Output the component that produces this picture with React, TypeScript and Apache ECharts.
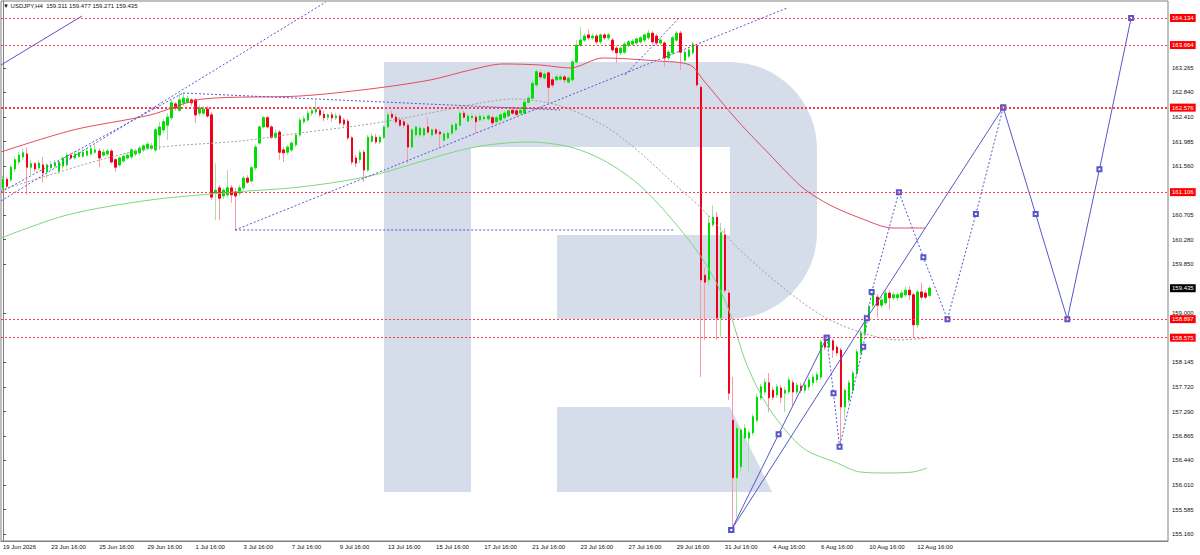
import React, { useEffect, useRef } from "react";
import * as echarts from "echarts";

const FONT = "Tahoma, 'Liberation Sans', Arial, sans-serif";

// x-axis labels, one every 12 H4 bars
const dateLabels = [
  "19 Jun 2026", "23 Jun 16:00", "25 Jun 16:00", "29 Jun 16:00", "1 Jul 16:00",
  "3 Jul 16:00", "7 Jul 16:00", "9 Jul 16:00", "13 Jul 16:00", "15 Jul 16:00",
  "17 Jul 16:00", "21 Jul 16:00", "23 Jul 16:00", "27 Jul 16:00", "29 Jul 16:00",
  "31 Jul 16:00", "4 Aug 16:00", "6 Aug 16:00", "10 Aug 16:00", "12 Aug 16:00",
];
const slotCount = 291; // bars + empty space on the right
const categories = Array.from({ length: slotCount }, (_, i) => String(i));

const priceTicks = [
  155.16, 155.585, 156.01, 156.44, 156.865, 157.29, 157.72, 158.145, 159.0,
  159.85, 160.28, 160.705, 161.56, 161.985, 162.41, 162.84, 163.265,
];
const levels = [164.134, 163.664, 162.576, 161.106, 158.897, 158.575];
const lastPrice = 159.435;

// [open, close, low, high]
const candles = [
  [161.18, 161.33, 161.14, 161.39], [161.33, 161.21, 161.16, 161.37], [161.32, 161.54, 161.28, 161.58],
  [161.51, 161.67, 161.46, 161.72], [161.63, 161.75, 161.58, 161.8], [161.72, 161.79, 161.67, 161.87],
  [161.77, 161.54, 161.06, 161.89], [161.54, 161.6, 161.4, 161.67], [161.6, 161.51, 161.46, 161.63],
  [161.53, 161.61, 161.49, 161.67], [161.58, 161.44, 161.27, 161.72], [161.46, 161.58, 161.35, 161.61],
  [161.53, 161.58, 161.49, 161.65], [161.56, 161.61, 161.53, 161.67], [161.47, 161.63, 161.42, 161.67],
  [161.56, 161.7, 161.51, 161.73], [161.58, 161.75, 161.54, 161.8], [161.75, 161.7, 161.67, 161.79],
  [161.7, 161.77, 161.67, 161.82], [161.73, 161.79, 161.7, 161.84], [161.73, 161.8, 161.7, 161.86],
  [161.75, 161.82, 161.72, 161.87], [161.77, 161.86, 161.73, 161.93], [161.8, 161.84, 161.77, 161.93],
  [161.82, 161.7, 161.54, 161.87], [161.75, 161.8, 161.72, 161.86], [161.77, 161.82, 161.73, 161.86],
  [161.82, 161.63, 161.6, 161.86], [161.67, 161.54, 161.46, 161.7], [161.58, 161.7, 161.54, 161.73],
  [161.65, 161.73, 161.61, 161.77], [161.7, 161.75, 161.67, 161.8], [161.72, 161.84, 161.68, 161.87],
  [161.77, 161.82, 161.73, 161.86], [161.79, 161.87, 161.75, 161.91], [161.84, 161.91, 161.8, 161.94],
  [161.87, 161.94, 161.84, 161.98], [161.87, 161.91, 161.84, 161.96], [161.84, 162.19, 161.8, 162.22],
  [162.1, 162.24, 161.84, 162.33], [162.19, 162.33, 162.13, 162.38], [162.27, 162.41, 162.01, 162.48],
  [162.4, 162.66, 162.36, 162.71], [162.64, 162.57, 162.52, 162.67], [162.53, 162.71, 162.5, 162.83],
  [162.66, 162.74, 162.6, 162.83], [162.67, 162.73, 162.64, 162.78], [162.71, 162.66, 162.6, 162.74],
  [162.71, 162.45, 162.31, 162.74], [162.48, 162.57, 162.43, 162.62], [162.48, 162.55, 162.45, 162.6],
  [162.55, 162.43, 162.4, 162.6], [162.45, 161.02, 160.97, 162.5], [161.09, 161.14, 160.62, 161.61],
  [161.18, 161.0, 160.62, 161.23], [161.04, 161.14, 160.99, 161.18], [161.06, 161.18, 161.02, 161.49],
  [161.18, 161.06, 160.92, 161.23], [161.11, 161.04, 160.45, 161.18], [161.09, 161.18, 161.04, 161.23],
  [161.18, 161.35, 161.14, 161.39], [161.35, 161.28, 161.25, 161.4], [161.3, 161.53, 161.27, 161.56],
  [161.53, 161.89, 161.49, 161.93], [161.96, 162.24, 161.93, 162.27], [162.24, 162.4, 162.21, 162.43],
  [162.4, 162.24, 162.21, 162.43], [162.24, 162.06, 162.03, 162.27], [162.06, 162.13, 162.03, 162.19],
  [162.15, 161.8, 161.67, 162.19], [161.84, 161.79, 161.63, 161.89], [161.8, 161.89, 161.75, 161.93],
  [161.84, 161.96, 161.8, 161.99], [161.93, 162.1, 161.89, 162.13], [162.1, 162.36, 162.06, 162.4],
  [162.33, 162.38, 162.29, 162.43], [162.36, 162.48, 162.33, 162.53], [162.48, 162.52, 162.43, 162.57],
  [162.5, 162.55, 162.46, 162.71], [162.53, 162.45, 162.41, 162.59], [162.46, 162.4, 162.34, 162.52],
  [162.41, 162.45, 162.36, 162.48], [162.45, 162.4, 162.33, 162.5], [162.4, 162.43, 162.36, 162.48],
  [162.43, 162.31, 162.27, 162.46], [162.36, 162.29, 162.24, 162.4], [162.34, 162.05, 162.01, 162.38],
  [162.05, 161.63, 161.58, 162.08], [161.7, 161.61, 161.54, 161.75], [161.67, 161.79, 161.61, 161.84],
  [161.8, 161.49, 161.28, 161.84], [161.49, 162.06, 161.46, 162.1], [161.99, 162.08, 161.96, 162.13],
  [162.06, 161.98, 161.94, 162.12], [161.98, 162.06, 161.94, 162.1], [162.06, 162.24, 162.03, 162.27],
  [162.24, 162.45, 162.21, 162.5], [162.46, 162.41, 162.38, 162.52], [162.41, 162.33, 162.29, 162.46],
  [162.36, 162.27, 162.24, 162.41], [162.33, 162.27, 162.22, 162.38], [162.27, 161.89, 161.61, 162.31],
  [161.89, 162.19, 161.86, 162.22], [162.1, 162.24, 162.06, 162.27], [162.1, 162.22, 162.06, 162.26],
  [162.1, 162.21, 162.06, 162.24], [162.24, 162.15, 162.12, 162.41], [162.1, 162.19, 162.06, 162.22],
  [162.19, 162.13, 162.1, 162.22], [162.15, 162.12, 161.87, 162.19], [162.01, 162.12, 161.98, 162.15],
  [162.05, 162.13, 162.01, 162.17], [162.13, 162.27, 162.1, 162.31], [162.19, 162.29, 162.15, 162.33],
  [162.27, 162.48, 162.24, 162.53], [162.48, 162.41, 162.38, 162.53], [162.34, 162.43, 162.31, 162.48],
  [162.4, 162.43, 162.36, 162.48], [162.41, 162.33, 162.13, 162.46], [162.36, 162.43, 162.33, 162.48],
  [162.38, 162.41, 162.34, 162.46], [162.38, 162.43, 162.34, 162.48], [162.4, 162.31, 162.27, 162.45],
  [162.33, 162.4, 162.29, 162.45], [162.36, 162.45, 162.33, 162.5], [162.4, 162.48, 162.36, 162.53],
  [162.43, 162.52, 162.4, 162.57], [162.53, 162.48, 162.45, 162.59], [162.52, 162.46, 162.43, 162.57],
  [162.48, 162.53, 162.45, 162.59], [162.48, 162.67, 162.45, 162.71], [162.67, 162.74, 162.64, 162.8],
  [162.74, 163.0, 162.71, 163.06], [162.97, 163.2, 162.93, 163.25], [163.18, 163.11, 163.07, 163.23],
  [163.09, 163.16, 163.06, 163.21], [163.18, 162.93, 162.66, 163.21], [163.06, 162.97, 162.92, 163.11],
  [163.06, 163.11, 163.02, 163.16], [163.07, 163.11, 163.04, 163.16], [163.11, 163.06, 163.0, 163.14],
  [163.02, 163.09, 162.99, 163.13], [163.06, 163.37, 163.02, 163.4], [163.37, 163.66, 163.33, 163.75],
  [163.66, 163.75, 163.63, 163.98], [163.75, 163.82, 163.72, 163.87], [163.84, 163.79, 163.75, 163.93],
  [163.79, 163.82, 163.75, 163.87], [163.82, 163.72, 163.68, 163.86], [163.72, 163.84, 163.68, 163.87],
  [163.84, 163.79, 163.75, 163.87], [163.79, 163.84, 163.75, 163.87], [163.75, 163.58, 163.54, 163.79],
  [163.61, 163.53, 163.35, 163.65], [163.53, 163.61, 163.49, 163.65], [163.54, 163.68, 163.51, 163.72],
  [163.66, 163.72, 163.63, 163.75], [163.68, 163.73, 163.65, 163.77], [163.7, 163.77, 163.66, 163.8],
  [163.72, 163.79, 163.68, 163.82], [163.75, 163.84, 163.72, 163.87], [163.79, 163.87, 163.75, 163.93],
  [163.87, 163.72, 163.68, 163.91], [163.82, 163.7, 163.66, 163.86], [163.7, 163.75, 163.66, 163.79],
  [163.7, 163.44, 163.28, 163.73], [163.44, 163.54, 163.4, 163.58], [163.53, 163.79, 163.49, 163.82],
  [163.75, 163.87, 163.72, 163.91], [163.87, 163.54, 163.23, 163.91], [163.4, 163.54, 163.37, 163.58],
  [163.47, 163.58, 163.44, 163.61], [163.53, 163.68, 163.49, 163.72], [163.65, 162.97, 162.93, 163.68],
  [162.93, 159.58, 157.89, 162.97], [159.66, 159.54, 158.53, 159.8], [159.58, 160.57, 159.49, 160.71],
  [160.54, 160.67, 160.5, 160.88], [160.67, 158.92, 158.53, 160.76], [158.92, 160.4, 158.59, 160.57],
  [160.36, 159.4, 159.35, 160.48], [159.35, 157.61, 157.49, 159.4], [157.14, 156.14, 155.23, 157.89],
  [156.14, 157.0, 155.46, 157.06], [156.33, 156.97, 156.24, 157.0], [156.83, 157.0, 156.78, 157.07],
  [156.83, 156.92, 156.24, 156.97], [156.92, 157.2, 156.87, 157.25], [157.14, 157.54, 157.1, 157.6],
  [157.53, 157.72, 157.49, 157.77], [157.63, 157.8, 157.58, 157.86], [157.79, 157.53, 157.28, 157.96],
  [157.66, 157.54, 157.49, 157.72], [157.58, 157.72, 157.53, 157.77], [157.7, 157.54, 157.44, 157.75],
  [157.61, 157.66, 157.28, 157.72], [157.63, 157.84, 157.58, 157.89], [157.79, 157.63, 157.4, 157.84],
  [157.63, 157.75, 157.58, 157.8], [157.73, 157.66, 157.61, 157.79], [157.66, 157.75, 157.61, 157.8],
  [157.72, 157.84, 157.66, 157.89], [157.79, 157.89, 157.73, 157.94], [157.84, 157.93, 157.79, 157.98],
  [157.89, 158.5, 157.84, 158.55], [158.53, 158.41, 158.36, 158.57], [158.41, 158.57, 158.36, 158.58],
  [158.52, 158.36, 158.22, 158.55], [158.41, 158.31, 158.26, 158.45], [158.36, 157.37, 156.67, 158.4],
  [157.37, 157.66, 157.14, 157.7], [157.49, 157.79, 157.44, 157.84], [157.66, 157.96, 157.61, 158.01],
  [157.96, 158.33, 157.91, 158.38], [158.31, 158.66, 158.26, 158.71], [158.66, 158.93, 158.6, 158.99],
  [158.92, 159.11, 158.88, 159.16], [159.14, 159.37, 159.1, 159.42], [159.28, 159.14, 158.92, 159.33],
  [159.14, 159.23, 159.09, 159.28], [159.18, 159.35, 159.14, 159.4], [159.35, 159.27, 159.06, 159.4],
  [159.27, 159.32, 159.23, 159.37], [159.27, 159.32, 159.21, 159.37], [159.28, 159.35, 159.25, 159.4],
  [159.32, 159.4, 159.28, 159.46], [159.4, 159.32, 159.23, 159.47], [159.32, 158.8, 158.59, 159.35],
  [158.8, 159.37, 158.74, 159.4], [159.37, 159.28, 159.23, 159.53], [159.35, 159.28, 159.25, 159.4],
  [159.311, 159.435, 159.271, 159.477],
];

// indicator lines, [bar position, price]
const maRed = [
  [-0.5, 161.804], [17.5, 162.187], [36.7, 162.448], [49.9, 162.726], [74.1, 162.778], [91.5, 162.9],
  [106.5, 163.056], [116.5, 163.23], [124.7, 163.335], [133.9, 163.317], [141.4, 163.265], [149.6, 163.439],
  [163.1, 163.387], [171.3, 163.317], [174.6, 163.056], [183.0, 162.361], [191.3, 161.752], [199.5, 161.178],
  [206.2, 160.882], [213.7, 160.656], [221.9, 160.482], [229.9, 160.482],
];
const maGreen = [
  [-0.5, 160.308], [16.0, 160.709], [36.7, 160.969], [57.9, 161.109], [74.1, 161.195], [91.5, 161.387],
  [116.5, 161.874], [131.4, 161.978], [141.4, 161.891], [149.6, 161.665], [158.1, 161.265], [166.3, 160.674],
  [174.6, 159.926], [180.5, 159.143], [185.5, 158.1], [191.3, 157.317], [199.5, 156.656], [208.0, 156.395],
  [213.7, 156.239], [220.4, 156.222], [226.9, 156.239], [230.4, 156.308],
];
const maGrey = [
  [-0.5, 161.143], [10.0, 161.369], [24.2, 161.665], [37.4, 161.874], [59.1, 161.995], [74.1, 162.135],
  [91.5, 162.291], [106.5, 162.482], [117.7, 162.639], [127.2, 162.726], [138.2, 162.621], [149.6, 162.274],
  [158.1, 161.839], [166.3, 161.317], [174.6, 160.795], [183.0, 160.152], [191.3, 159.63], [199.5, 159.178],
  [206.2, 158.882], [214.5, 158.656], [222.9, 158.535], [230.4, 158.569],
];

// drawn trend lines
const solidTrends = [[[-0.5, 163.317], [19.7, 164.169]]];
const dottedTrends = [
  [[-0.5, 160.952], [80.5, 164.413]],
  [[-0.5, 161.108], [44.9, 162.83]],
  [[44.9, 162.83], [138.9, 162.535]],
  [[57.9, 160.448], [195.5, 164.308]],
  [[57.9, 160.448], [167.6, 160.448]],
  [[155.1, 163.143], [168.8, 164.152]],
];
const forecastSolidA = [[181.6, 155.23], [193.4, 156.895], [205.4, 158.575]];
const forecastSolidB = [
  [181.6, 155.23], [215.4, 158.912], [249.4, 162.576], [257.5, 160.726],
  [265.4, 158.897], [273.4, 161.503], [281.3, 164.134],
];
const forecastDotted = [
  [205.4, 158.575], [207.1, 157.608], [208.6, 156.679], [214.5, 158.418], [216.6, 159.369],
  [223.4, 161.106], [229.5, 159.973], [235.5, 158.897], [242.6, 160.726], [249.4, 162.576],
];

const BLUE = "#5656cc";
const LOGO = "#d4dde9";

const App = () => {
  const chartRef = useRef<HTMLDivElement>(null);

  useEffect(() => {
    document.body.style.margin = "0";
    const chart = echarts.init(chartRef.current, null, { renderer: "svg" });

    const bodies = candles.map(([o, c]) => [o, c, Math.min(o, c), Math.max(o, c)]);
    const showTick = (i: number) => i % 12 === 0 && i / 12 < dateLabels.length;

    const line = (data: number[][], color: string, dotted: boolean, extra: any = {}) => ({
      type: "line",
      xAxisIndex: 1,
      data,
      symbol: "none",
      silent: true,
      lineStyle: { color, width: 1, type: dotted ? [2, 2] : "solid" },
      z: 3,
      ...extra,
    });
    // small hollow squares at the forecast vertices
    const marked = { symbol: "emptyRect", symbolSize: 4, itemStyle: { color: BLUE, borderWidth: 1 } };

    const option = {
      animation: false,
      textStyle: { fontFamily: FONT },
      grid: { left: 1, top: 1, right: 32, bottom: 14, show: true, borderColor: "#808080", borderWidth: 1 },
      xAxis: [
        {
          type: "category",
          data: categories,
          boundaryGap: true,
          axisLine: { lineStyle: { color: "#808080" } },
          axisTick: { alignWithLabel: true, interval: showTick, length: 3, lineStyle: { color: "#555" } },
          axisLabel: {
            interval: showTick,
            formatter: (_v: string, i: number) => dateLabels[i / 12] ?? "",
            align: "left",
            fontSize: 6,
            color: "#111",
            margin: 3,
            fontFamily: FONT,
          },
          splitLine: { show: false },
        },
        { type: "value", min: -0.5, max: slotCount - 0.5, show: false },
      ],
      yAxis: {
        type: "value",
        position: "right",
        min: 155.039,
        max: 164.43,
        axisLine: { show: true, lineStyle: { color: "#808080" } },
        axisTick: { show: true, length: 3, customValues: priceTicks, lineStyle: { color: "#555" } },
        axisLabel: {
          customValues: priceTicks,
          formatter: (v: number) => v.toFixed(3),
          fontSize: 6,
          color: "#111",
          margin: 4,
          fontFamily: FONT,
        },
        splitLine: { show: false },
      },
      graphic: [
        { type: "rect", shape: { x: 384, y: 62, width: 87, height: 430 }, style: { fill: LOGO } },
        { type: "rect", shape: { x: 471, y: 62, width: 346, height: 257, r: [0, 87, 87, 0] }, style: { fill: LOGO } },
        { type: "rect", shape: { x: 471, y: 147, width: 259, height: 88 }, style: { fill: "#fff" } },
        { type: "rect", shape: { x: 471, y: 235, width: 86, height: 84 }, style: { fill: "#fff" } },
        { type: "polygon", shape: { points: [[557, 407], [730, 407], [772, 492], [557, 492]] }, style: { fill: LOGO } },
        {
          type: "text",
          x: 3,
          y: 3,
          style: { text: "▼ USDJPY,H4  159.311 159.477 159.271 159.435", fontSize: 6, fontFamily: FONT, fill: "#111" },
        },
      ],
      series: [
        {
          type: "candlestick",
          data: candles,
          barWidth: 2,
          silent: true,
          itemStyle: {
            color: "rgba(0,0,0,0)",
            color0: "rgba(0,0,0,0)",
            borderColor: "#9fe59f",
            borderColor0: "#ff98a4",
            borderWidth: 1,
          },
        },
        {
          type: "candlestick",
          data: bodies,
          barWidth: 2,
          silent: true,
          itemStyle: { color: "#00dd00", color0: "#f0001a", borderColor: "#00dd00", borderColor0: "#f0001a", borderWidth: 1 },
          markLine: {
            silent: true,
            precision: 3,
            symbol: ["none", "none"],
            lineStyle: { color: "#ff3b52", width: 1, type: [2, 2] },
            label: {
              position: "end",
              distance: 2,
              formatter: (p: any) => Number(p.value).toFixed(3),
              backgroundColor: "#ff0000",
              color: "#fff",
              fontSize: 6,
              fontFamily: FONT,
              padding: [1, 2, 1, 2],
            },
            data: [
              ...levels.map((v) => ({ yAxis: v, lineStyle: { width: v === 162.576 ? 2 : 1 } })),
              { yAxis: lastPrice, lineStyle: { color: "rgba(0,0,0,0)" }, label: { backgroundColor: "#000" } },
            ],
          },
        },
        line(maRed, "#e44b60", false, { smooth: 0.3 }),
        line(maGreen, "#7ed67e", false, { smooth: 0.3 }),
        line(maGrey, "#a0a0a0", true, { smooth: 0.3 }),
        ...solidTrends.map((d) => line(d, BLUE, false)),
        ...dottedTrends.map((d) => line(d, BLUE, true)),
        line(forecastSolidA, BLUE, false, marked),
        line(forecastSolidB, BLUE, false, marked),
        line(forecastDotted, BLUE, true, marked),
      ],
    };

    chart.setOption(option as any);
    return () => {
      chart.dispose();
    };
  }, []);

  return <div ref={chartRef} style={{ width: 1200, height: 555 }} />;
};

export default App;
